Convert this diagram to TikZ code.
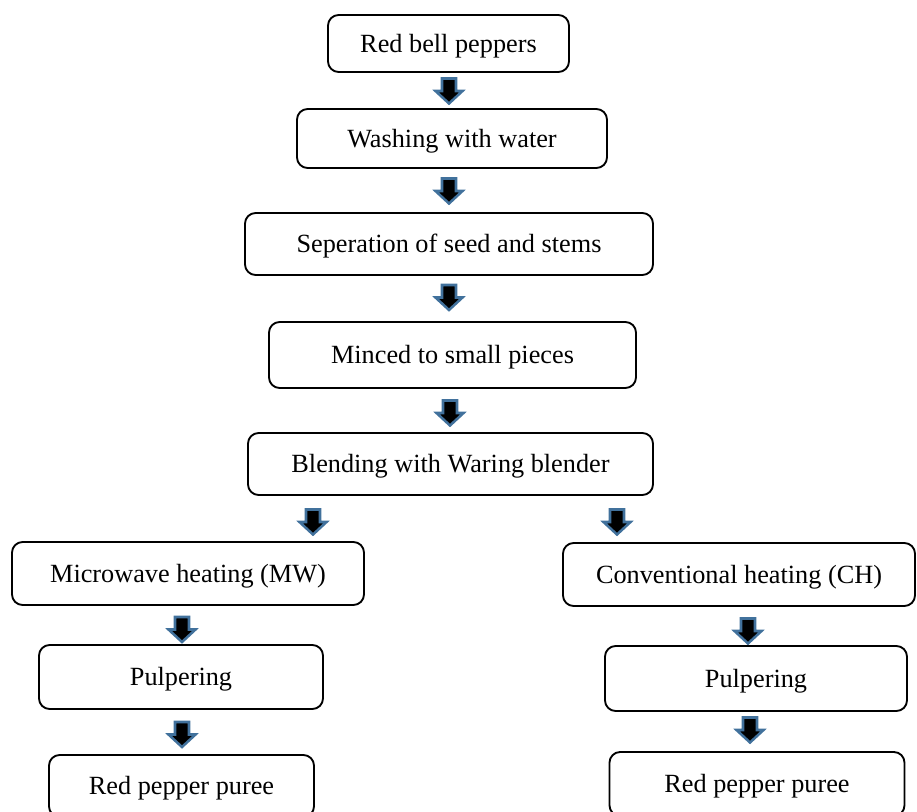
\documentclass[tikz,border=0pt]{standalone}
\usepackage{fontspec}
\setmainfont{Liberation Serif}
\definecolor{arrowedge}{HTML}{41719C}
\begin{document}
\begin{tikzpicture}[x=0.75pt,y=-0.75pt,
  box/.style={draw=black, line width=1.4pt, rounded corners=8pt, inner sep=0pt,
    text height=13pt, text depth=0pt,
    font=\fontsize{19.7}{23}\selectfont},
  downarrow/.pic={\filldraw[fill=black, draw=arrowedge, line width=1.9pt, line join=miter]
    (-7,-13) -- (7,-13) -- (7,-0.5) -- (13.5,-0.5) -- (0,12) -- (-13.5,-0.5) -- (-7,-0.5) -- cycle;}
]
\useasboundingbox (0,0) rectangle (917,812);

% main chain
\node[box, minimum width={241*0.75pt}, minimum height={57*0.75pt}] (rbp) at (448.5,43.5) {Red bell peppers};
\node[box, minimum width={310*0.75pt}, minimum height={59*0.75pt}] (wash) at (452,138.5) {Washing with water};
\node[box, minimum width={408*0.75pt}, minimum height={62*0.75pt}] (sep) at (449,244) {Seperation of seed and stems};
\node[box, minimum width={367*0.75pt}, minimum height={66*0.75pt}] (mince) at (452.5,355) {Minced to small pieces};
\node[box, minimum width={405*0.75pt}, minimum height={62*0.75pt}] (blend) at (450.5,464) {Blending with Waring blender};

% left branch
\node[box, minimum width={352*0.75pt}, minimum height={63*0.75pt}] (mw) at (188,573.5) {Microwave heating (MW)};
\node[box, minimum width={284*0.75pt}, minimum height={64*0.75pt}] (pulpL) at (181,677) {Pulpering};
\node[box, minimum width={265*0.75pt}, minimum height={62*0.75pt}] (rppL) at (181.5,786) {Red pepper puree};

% right branch
\node[box, minimum width={352*0.75pt}, minimum height={63*0.75pt}] (ch) at (739,574.5) {Conventional heating (CH)};
\node[box, minimum width={302*0.75pt}, minimum height={65*0.75pt}] (pulpR) at (756,678.5) {Pulpering};
\node[box, minimum width={295*0.75pt}, minimum height={64*0.75pt}] (rppR) at (757,784) {Red pepper puree};

% block arrows
\pic at (449,91.5) {downarrow};
\pic at (449,191.5) {downarrow};
\pic at (449,298) {downarrow};
\pic at (450,413.5) {downarrow};
\pic at (313,522.5) {downarrow};
\pic at (617,522.5) {downarrow};
\pic at (182,630) {downarrow};
\pic at (748,631.5) {downarrow};
\pic at (182,735) {downarrow};
\pic at (750,730.5) {downarrow};
\end{tikzpicture}
\end{document}
